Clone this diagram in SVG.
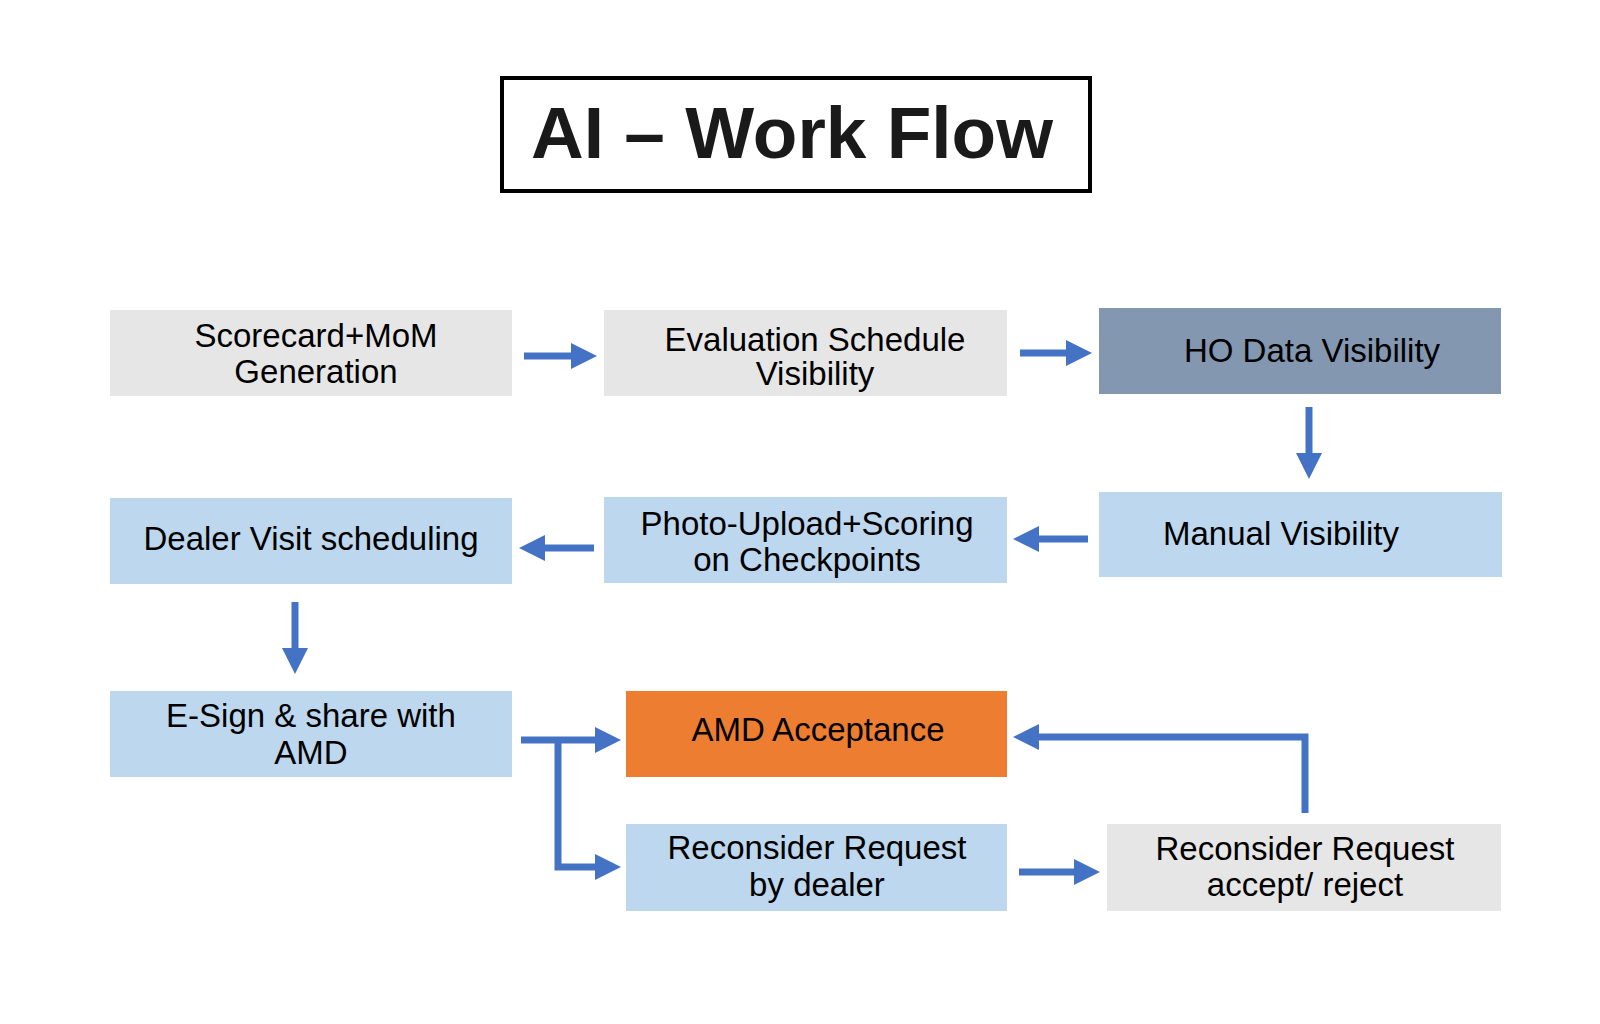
<svg xmlns="http://www.w3.org/2000/svg" width="1600" height="1024" viewBox="0 0 1600 1024">
<defs>
<style>
.gray{fill:#E7E6E6}
.blue{fill:#BDD7EE}
.slate{fill:#8497B0}
.orange{fill:#ED7D31}
.t{font-family:"Liberation Sans",Arial,sans-serif;font-size:33px;fill:#000;text-anchor:middle}
.title{font-family:"Liberation Sans",Arial,sans-serif;font-size:73px;font-weight:bold;fill:#1a1a1a;text-anchor:middle}
.c{fill:none;stroke:#4472C4;stroke-width:7;stroke-linejoin:miter;marker-end:url(#ah)}
.c2{fill:none;stroke:#4472C4;stroke-width:7}
</style>
<marker id="ah" markerUnits="userSpaceOnUse" markerWidth="26" markerHeight="26" refX="2" refY="13" orient="auto">
<path d="M0,0 L26,13 L0,26 z" fill="#4472C4"/>
</marker>
</defs>
<rect width="1600" height="1024" fill="#fff"/>
<g id="title">
<rect x="502" y="78" width="588" height="113" fill="#fff" stroke="#000" stroke-width="4"/>
<text class="title" x="792" y="158">AI – Work Flow</text>
</g>
<g id="scorecard">
<rect class="gray" x="110" y="310" width="402" height="86"/>
<text class="t" x="316" y="347">Scorecard+MoM</text>
<text class="t" x="316" y="383">Generation</text>
</g>
<g id="evaluation">
<rect class="gray" x="604" y="310" width="403" height="86"/>
<text class="t" x="815" y="351">Evaluation Schedule</text>
<text class="t" x="815" y="385">Visibility</text>
</g>
<g id="ho">
<rect class="slate" x="1099" y="308" width="402" height="86"/>
<text class="t" x="1312" y="362">HO Data Visibility</text>
</g>
<g id="manual">
<rect class="blue" x="1099" y="492" width="403" height="85"/>
<text class="t" x="1281" y="545">Manual Visibility</text>
</g>
<g id="photo">
<rect class="blue" x="604" y="497" width="403" height="86"/>
<text class="t" x="807" y="535">Photo-Upload+Scoring</text>
<text class="t" x="807" y="571">on Checkpoints</text>
</g>
<g id="dealer">
<rect class="blue" x="110" y="498" width="402" height="86"/>
<text class="t" x="311" y="550">Dealer Visit scheduling</text>
</g>
<g id="esign">
<rect class="blue" x="110" y="691" width="402" height="86"/>
<text class="t" x="311" y="727">E-Sign &amp; share with</text>
<text class="t" x="311" y="764">AMD</text>
</g>
<g id="amd">
<rect class="orange" x="626" y="691" width="381" height="86"/>
<text class="t" x="818" y="741">AMD Acceptance</text>
</g>
<g id="recon-dealer">
<rect class="blue" x="626" y="824" width="381" height="87"/>
<text class="t" x="817" y="859">Reconsider Request</text>
<text class="t" x="817" y="896">by dealer</text>
</g>
<g id="recon-accept">
<rect class="gray" x="1107" y="824" width="394" height="87"/>
<text class="t" x="1305" y="860">Reconsider Request</text>
<text class="t" x="1305" y="896">accept/ reject</text>
</g>
<g id="connectors">
<path class="c" d="M524,356 H573"/>
<path class="c" d="M1020,353 H1068"/>
<path class="c" d="M1309,407 V455"/>
<path class="c" d="M1088,539 H1037"/>
<path class="c" d="M594,548 H543"/>
<path class="c" d="M295,602 V650"/>
<path class="c" d="M521,740 H597"/>
<path class="c" d="M558,740 V867 H597"/>
<path class="c" d="M1019,872 H1076"/>
<path class="c" d="M1305,813 V737 H1037"/>
</g>
</svg>
